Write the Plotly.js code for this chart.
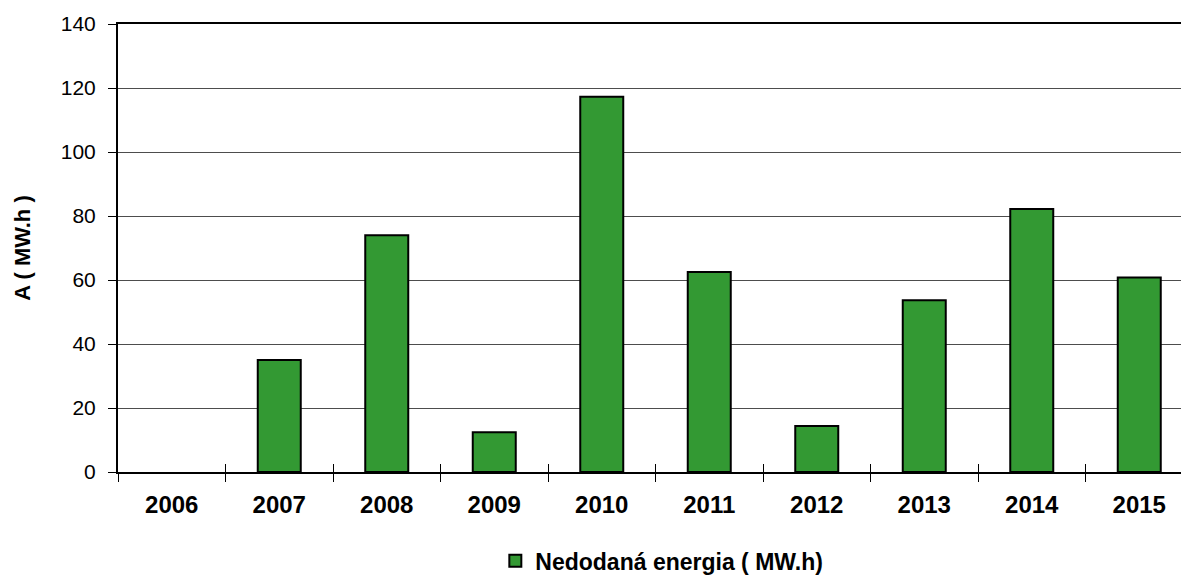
<!DOCTYPE html>
<html>
<head>
<meta charset="utf-8">
<script src="https://cdn.plot.ly/plotly-3.0.1.min.js"></script>
<style>
  html, body { margin: 0; padding: 0; background: #fff; overflow: hidden; }
  #chart { width: 1195px; height: 576px; }
</style>
</head>
<body>
<div id="chart"></div>
<script>
// Undelivered energy per year (2006 has no recorded value)
const years = ['2006', '2007', '2008', '2009', '2010', '2011', '2012', '2013', '2014', '2015'];
const energy = [null, 35, 74, 12.4, 117.3, 62.5, 14.4, 53.7, 82.2, 60.8];
const seriesName = 'Nedodaná energia ( MW.h)';
const yTitle = 'A ( MW.h )';

const font = 'Liberation Sans, Arial, sans-serif';

const bars = {
  type: 'bar',
  x: years,
  y: energy,
  name: seriesName,
  width: 0.4,
  marker: { color: '#339933', line: { color: '#000000', width: 2 } },
  showlegend: true,
  hoverinfo: 'x+y'
};

// invisible helper so the category boundaries can carry inward tick marks too
const helper = {
  type: 'scatter',
  x: years.map((_, i) => i),
  y: years.map(() => 0),
  xaxis: 'x2',
  mode: 'none',
  showlegend: false,
  hoverinfo: 'skip'
};

const layout = {
  width: 1195,
  height: 576,
  margin: { l: 118, r: 2, t: 24, b: 104, autoexpand: false },
  paper_bgcolor: '#ffffff',
  plot_bgcolor: '#ffffff',
  font: { family: font, color: '#000000' },
  bargap: 0.6,
  xaxis: {
    type: 'category',
    categoryarray: years,
    range: [-0.5, 9.5],
    showline: true,
    linecolor: '#000000',
    linewidth: 2,
    mirror: true,
    ticks: 'outside',
    tickson: 'boundaries',
    ticklen: 8,
    tickwidth: 1,
    tickcolor: '#000000',
    ticklabelstandoff: 10,
    showgrid: false,
    zeroline: false,
    tickfont: { family: font, size: 24, color: '#000000', weight: 'bold' },
    automargin: false,
    fixedrange: true
  },
  xaxis2: {
    overlaying: 'x',
    anchor: 'y',
    side: 'bottom',
    range: [-0.5, 9.5],
    tickmode: 'linear',
    tick0: -0.5,
    dtick: 1,
    ticks: 'inside',
    ticklen: 8,
    tickwidth: 1,
    tickcolor: '#000000',
    showticklabels: false,
    showgrid: false,
    zeroline: false,
    showline: false,
    automargin: false,
    fixedrange: true
  },
  yaxis: {
    range: [0, 140],
    dtick: 20,
    tick0: 0,
    showline: true,
    linecolor: '#000000',
    linewidth: 2,
    ticks: 'outside',
    ticklen: 8,
    tickwidth: 1,
    tickcolor: '#000000',
    ticklabelstandoff: 8,
    showgrid: true,
    gridcolor: '#4d4d4d',
    gridwidth: 1,
    zeroline: false,
    tickfont: { family: font, size: 21, color: '#000000' },
    title: {
      text: yTitle,
      standoff: 24,
      font: { family: font, size: 22, color: '#000000', weight: 'bold' }
    },
    automargin: false,
    fixedrange: true
  },
  legend: {
    orientation: 'h',
    x: 0.351,
    xanchor: 'left',
    y: -0.198,
    yanchor: 'middle',
    font: { family: font, size: 23, color: '#000000', weight: 'bold' },
    bgcolor: 'rgba(0,0,0,0)'
  },
  showlegend: true
};

Plotly.newPlot('chart', [bars, helper], layout, { displayModeBar: false, staticPlot: true });
</script>
</body>
</html>
